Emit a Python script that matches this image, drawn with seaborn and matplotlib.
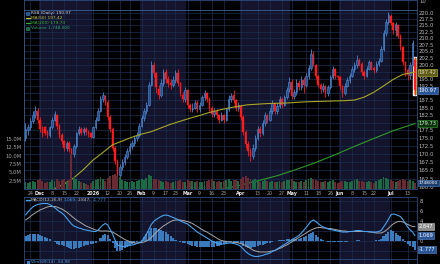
import numpy as np
import pandas as pd
import matplotlib
matplotlib.use("Agg")
import matplotlib.pyplot as plt
import matplotlib.transforms as mtransforms
from matplotlib.patches import Rectangle
from matplotlib.lines import Line2D
from matplotlib.ticker import NullLocator, NullFormatter
import seaborn as sns

# ---------------- data ----------------
ticker = "RSB"
first_day = "2025-11-20"
last_day = "2026-07-16"
market_holidays = ["2025-11-27", "2025-12-25", "2026-01-01", "2026-01-19",
                   "2026-02-16", "2026-04-03", "2026-05-25", "2026-06-19", "2026-07-03"]

opens = [175, 177.5, 178.5, 180.5, 182.5, 184, 181, 178, 178.5, 177,
         176, 178.5, 181, 182.5, 179, 176, 174, 172, 173.5, 171.5,
         170, 172.5, 176.5, 178, 177, 178, 177, 176.5, 175.5, 178.5,
         181, 184, 188, 189, 187, 182, 178, 172, 168, 163.5,
         166, 167.5, 169, 171, 172.5, 173.5, 175, 176, 179, 181.5,
         184, 186, 193, 200, 197, 191.5, 189.5, 193.5, 197.5, 195,
         193.5, 193, 194.5, 197, 193.5, 189.5, 188, 191, 186, 184.5,
         185, 187, 184.5, 186, 188.5, 190, 188, 185, 183, 184,
         182.5, 181, 182.5, 181, 184.5, 188, 189.5, 187.5, 185, 185.5,
         182, 177, 173, 171, 169.5, 172, 175, 178, 176.5, 180,
         182.5, 181, 184, 186.5, 184, 185.5, 188, 186, 188.5, 191.5,
         194, 189, 190.5, 193.5, 192, 194.5, 193, 196, 199, 203.5,
         200, 196, 193, 191.5, 192.5, 190, 192, 195.5, 198.5, 196,
         195.5, 192.5, 190, 192.5, 194.5, 196, 198.5, 200, 202, 200.5,
         197.5, 196, 198.5, 201, 199, 198, 200.5, 201.5, 206, 212,
         216.5, 218.5, 216, 213, 215, 211, 206.5, 201, 198, 196.5,
         200, 202]
closes = [178, 178.5, 180.5, 182.5, 184, 181, 178, 176.5, 176.8, 176,
          178.5, 181, 183, 179, 176, 174, 172, 173.5, 171.5, 170,
          172.5, 176.5, 178, 176.5, 178, 177, 176.5, 175.5, 178.5, 181,
          184, 188, 189.5, 187, 182, 178, 172, 168, 164, 166,
          167.5, 169, 171, 172.5, 173.5, 175, 176, 179, 181.5, 184,
          186, 193, 200, 197, 192, 189.5, 193.5, 197, 195, 193.5,
          193, 194.5, 197, 193.5, 190, 188, 191, 186, 184.5, 185,
          186.5, 184.5, 186, 188.5, 190, 188, 185, 183, 184, 182.5,
          181, 182.5, 181, 184.5, 188, 189, 187.5, 185, 186, 182,
          177, 173, 171, 169.5, 172, 175, 178, 176.5, 180, 182.5,
          181, 184, 186.5, 184, 185.5, 188, 186, 188.5, 191, 194,
          189, 190.5, 193.5, 192, 194.5, 193, 196, 199, 204, 200.5,
          196, 193, 191.5, 192.5, 190, 192, 195.5, 198.5, 196, 195.5,
          192.5, 190, 192.5, 194.5, 196, 198.5, 200, 202, 200.5, 197.5,
          196, 198.5, 201, 199, 198, 200.5, 201.5, 206, 212, 216.5,
          219, 216, 213, 215.5, 211, 206.5, 201, 198, 196.5, 200,
          208, 190.97]
highs = [180, 179.5, 181.5, 184, 185.5, 185, 182, 179, 179, 177.5,
         179, 182, 184, 183, 179.5, 176.5, 174.5, 174, 174, 172,
         173, 177, 179, 178.5, 178.5, 178.5, 177.5, 177, 179, 182,
         185, 189, 190.5, 189.5, 187.5, 182.5, 178.5, 172.5, 168.5, 167,
         168.5, 170, 172, 173.5, 174.5, 176, 177, 180, 182.5, 185,
         187, 194, 201.5, 201, 197.5, 193, 195, 198.5, 198.5, 196,
         195, 196, 198, 198.5, 194, 190.5, 192, 191.5, 186.5, 186.5,
         187.5, 187.5, 187, 189.5, 191, 190.5, 188.5, 185.5, 185, 184.5,
         183, 183.5, 183, 185, 189.5, 190, 191, 188, 187, 186,
         182.5, 177.5, 174, 172, 173, 176, 179, 179, 181, 183.5,
         183, 185, 187.5, 187, 186.5, 189, 188.5, 189.5, 192, 195.5,
         195, 191.5, 195, 194.5, 196, 195.5, 197, 200, 205.8, 205,
         200.5, 196.5, 193.5, 193.5, 193, 193, 196.5, 199.5, 199, 196.5,
         196, 193, 193.5, 195.5, 197, 199.5, 201, 203.5, 202.5, 201,
         198, 199.5, 202, 201.5, 199.5, 201.5, 202.5, 207, 213, 217.5,
         220.3, 219.5, 216.5, 216.5, 215.5, 211.5, 207, 201.5, 199, 201,
         209.5, 203]
lows = [174, 176, 177.5, 180, 181.5, 180, 177, 175.5, 176, 175,
        175.5, 178, 180.5, 178, 175, 173, 171, 171, 170.5, 169,
        169, 172, 176, 176, 176, 176, 175.5, 175, 175, 178,
        180.5, 183.5, 187, 186, 181, 177, 171, 167, 162.5, 161.3,
        165, 166.5, 168.5, 170, 171.5, 172.5, 174, 175.5, 178.5, 180.5,
        183, 185.5, 192.5, 195.5, 190, 188, 188.5, 192.5, 193.5, 192,
        191.5, 192, 193.5, 192.5, 189, 187, 187, 185, 183.5, 183.5,
        184.5, 183.5, 183.5, 185.5, 187.5, 187, 184, 182, 182, 181.5,
        180, 180.5, 180, 180.5, 184, 187, 186.5, 184, 184, 181,
        176, 172, 169.5, 168, 168.5, 171, 174.5, 175.5, 176, 179,
        180, 180.5, 183, 183, 183, 185, 185, 185.5, 188, 190.5,
        188, 188, 189.5, 191, 191, 190, 192, 195, 198, 199.5,
        195, 192, 190, 190.5, 188.5, 189, 191.5, 195, 195, 194.5,
        191.5, 188.5, 189.5, 192, 193.5, 195.5, 197.5, 199, 199.5, 196.5,
        195, 195.5, 198, 198, 197, 197.5, 199.5, 201, 205, 211,
        215.5, 215, 211.5, 211, 210, 205.5, 200, 196, 194.5, 195,
        199.5, 189.4]
volume_m = [2.2, 1.8, 2.0, 2.5, 2.1, 2.8, 3.0, 2.4, 1.9, 2.2,
            2.0, 2.6, 2.3, 2.9, 2.5, 2.7, 3.1, 2.2, 2.8, 10.5,
            3.5, 2.9, 2.4, 2.0, 1.7, 1.5, 1.3, 1.8, 2.4, 2.6,
            3.0, 3.6, 2.9, 2.5, 3.4, 3.8, 4.2, 4.5, 4.0, 3.6,
            2.8, 2.4, 2.2, 2.0, 2.3, 2.1, 2.5, 2.8, 3.0, 2.7,
            3.2, 4.1, 3.8, 3.0, 2.9, 2.6, 2.4, 2.2, 2.5, 2.1,
            1.9, 2.0, 2.3, 2.4, 2.6, 2.2, 2.0, 2.8, 2.5, 2.3,
            2.1, 2.4, 2.0, 2.2, 2.5, 2.3, 2.6, 2.9, 2.4, 2.2,
            2.5, 2.1, 2.3, 2.7, 2.9, 2.4, 2.6, 2.8, 2.3, 3.1,
            3.6, 3.9, 3.3, 3.0, 2.7, 2.9, 2.5, 2.2, 2.4, 2.6,
            2.3, 2.1, 2.5, 2.2, 2.0, 2.4, 2.1, 2.3, 2.6, 2.8,
            3.0, 2.5, 2.2, 2.1, 2.4, 2.0, 2.6, 2.9, 3.4, 3.1,
            2.8, 2.5, 2.2, 2.0, 2.3, 2.1, 2.4, 2.6, 2.2, 1.9,
            2.1, 2.5, 2.3, 2.0, 2.2, 2.4, 2.7, 2.9, 2.3, 2.5,
            2.2, 2.0, 2.4, 2.1, 1.9, 2.3, 2.6, 3.0, 3.5, 3.2,
            2.9, 2.6, 2.4, 2.2, 2.5, 2.8, 3.1, 2.7, 2.4, 2.6,
            2.3, 1.748]

ma50_days = [11, 16, 20, 24, 28, 31, 36, 40, 44, 48, 52, 56, 60, 64, 68, 72, 76, 80, 84,
             88, 92, 96, 100, 104, 108, 112, 116, 120, 124, 128, 132, 136, 140, 144, 148,
             152, 156, 161]
ma50_vals = [159.2, 161.0, 162.8, 165.3, 168.2, 169.9, 172.9, 174.1, 175.3, 176.3, 177.1,
             178.3, 179.5, 180.5, 181.5, 182.4, 183.4, 184.2, 184.9, 185.5, 186.0, 186.2,
             186.4, 186.5, 186.6, 186.8, 187.0, 187.1, 187.2, 187.3, 187.4, 187.6, 188.6,
             190.3, 192.5, 194.8, 196.6, 197.42]
ma200_days = [80, 88, 96, 104, 112, 120, 128, 136, 144, 152, 161]
ma200_vals = [159.3, 160.5, 161.9, 163.4, 165.3, 167.4, 169.8, 172.4, 174.9, 177.4, 179.73]

macd_line = [5.2, 5.8, 6.3, 6.8, 7.1, 7.3, 7.4, 7.5, 7.5, 7.5,
             7.3, 7.0, 6.7, 6.3, 5.9, 5.6, 5.2, 4.6, 4.0, 3.4,
             3.0, 2.8, 2.6, 2.5, 2.3, 2.2, 2.1, 2.0, 1.9, 1.9,
             2.2, 2.7, 3.2, 3.5, 3.2, 2.3, 1.4, 0.2, -0.8, -1.0,
             -1.1, -1.1, -1.0, -0.9, -0.8, -0.7, -0.5, -0.3, -0.1, 0.6,
             1.4, 2.3, 3.3, 3.9, 4.3, 4.6, 4.9, 5.1, 5.2, 5.1,
             4.9, 4.7, 4.5, 4.3, 4.0, 3.8, 3.6, 3.4, 3.0, 2.6,
             2.2, 1.8, 1.5, 1.2, 0.9, 0.6, 0.3, 0.0, -0.2, -0.4,
             -0.6, -0.6, -0.6, -0.5, -0.4, -0.4, -0.5, -0.6, -0.8, -1.1,
             -1.6, -2.1, -2.5, -2.8, -3.0, -3.1, -3.1, -3.0, -2.9, -2.7,
             -2.6, -2.4, -2.1, -1.9, -1.6, -1.3, -1.0, -0.7, -0.4, -0.1,
             0.2, 0.5, 0.8, 1.1, 1.6, 2.1, 2.7, 3.3, 3.9, 4.2,
             3.9, 3.5, 3.1, 2.8, 2.6, 2.4, 2.3, 2.2, 2.1, 2.0,
             1.9, 1.8, 1.8, 1.8, 1.9, 1.9, 2.0, 2.1, 2.1, 2.0,
             1.9, 1.9, 1.9, 1.8, 1.8, 1.8, 1.9, 2.1, 2.8, 3.5,
             4.3, 5.2, 5.4, 5.3, 5.1, 4.9, 4.3, 3.5, 2.8, 2.2,
             1.8, 1.069]
signal_line = [4.2, 4.5, 4.9, 5.3, 5.6, 5.9, 6.2, 6.4, 6.6, 6.8,
               6.9, 6.9, 6.9, 6.8, 6.6, 6.4, 6.1, 5.8, 5.4, 5.0,
               4.6, 4.2, 3.9, 3.6, 3.3, 3.0, 2.8, 2.6, 2.4, 2.2,
               2.1, 2.0, 2.0, 2.0, 2.0, 1.9, 1.8, 1.5, 1.2, 0.9,
               0.6, 0.3, 0.1, -0.1, -0.3, -0.4, -0.4, -0.4, -0.3, -0.2,
               0.0, 0.3, 0.7, 1.2, 1.7, 2.2, 2.6, 3.0, 3.3, 3.6,
               3.9, 4.1, 4.2, 4.2, 4.2, 4.1, 4.0, 3.9, 3.7, 3.5,
               3.2, 2.9, 2.6, 2.3, 2.0, 1.8, 1.5, 1.2, 0.9, 0.6,
               0.3, 0.1, 0.0, -0.1, -0.2, -0.2, -0.3, -0.3, -0.4, -0.5,
               -0.7, -0.9, -1.2, -1.5, -1.8, -2.0, -2.1, -2.2, -2.2, -2.2,
               -2.2, -2.1, -2.0, -1.9, -1.7, -1.5, -1.3, -1.0, -0.8, -0.5,
               -0.2, 0.1, 0.4, 0.7, 1.0, 1.3, 1.6, 1.9, 2.2, 2.4,
               2.6, 2.7, 2.7, 2.6, 2.6, 2.5, 2.5, 2.4, 2.3, 2.2,
               2.1, 2.0, 2.0, 1.9, 1.9, 1.9, 1.9, 1.9, 1.9, 1.9,
               1.9, 1.9, 1.8, 1.8, 1.7, 1.6, 1.6, 1.6, 1.8, 2.1,
               2.5, 3.0, 3.4, 3.7, 3.9, 3.9, 3.8, 3.6, 3.3, 3.1,
               2.9, 2.847]

tick_dates = ["2025-11-24", "2025-12-01", "2025-12-08", "2025-12-15", "2025-12-22",
              "2026-01-02", "2026-01-12", "2026-01-20", "2026-01-26", "2026-02-02",
              "2026-02-09", "2026-02-17", "2026-02-23", "2026-03-02", "2026-03-09",
              "2026-03-16", "2026-03-23", "2026-04-01", "2026-04-13", "2026-04-20",
              "2026-04-27", "2026-05-01", "2026-05-11", "2026-05-18", "2026-05-26",
              "2026-06-01", "2026-06-08", "2026-06-15", "2026-06-22", "2026-07-01",
              "2026-07-13"]
tick_labels = ["24", "Dec", "8", "15", "22", "2026", "12", "20", "26", "Feb",
               "9", "17", "23", "Mar", "9", "16", "23", "Apr", "13", "20",
               "27", "May", "11", "18", "26", "Jun", "8", "15", "22", "Jul", "13"]

price_ticks = [160.0, 162.5, 165.0, 167.5, 170.0, 172.5, 175.0, 177.5, 180.0, 182.5,
               185.0, 187.5, 190.0, 192.5, 195.0, 197.5, 200.0, 202.5, 205.0, 207.5,
               210.0, 212.5, 215.0, 217.5, 220.0]
volume_ticks = [2.5, 5.0, 7.5, 10.0, 12.5, 15.0]
volume_tick_labels = ["2.5M", "5.0M", "7.5M", "10.0M", "12.5M", "15.0M"]
macd_ticks = [8, 6, 4, 0]
macd_grid = [8, 6, 4, 2, 0, -2]

last_close = 190.97
last_ma50 = 197.42
last_ma200 = 179.73
last_volume = 1748000
macd_last = [1.069, 2.847, -1.777]
wmr_last = -94.98
upper_panel_tick = "10"

# ---------------- style ----------------
sns.set_style("dark", {"axes.facecolor": "black", "figure.facecolor": "black"})
plt.rcParams["font.family"] = ["DejaVu Sans"]

BG = "#000000"
SHADE = "#14142c"
GRID = "#1a2f52"
BORDER = "#2c4c7e"
UP_FC, UP_EC = "#23508e", "#4c86cc"
DN_C = "#ff1c1c"
VOL_UP, VOL_DN = "#1c6a44", "#6a2a32"
TXT = "#bcbcbc"

W, H = 440, 264
fig = plt.figure(figsize=(W / 100, H / 100), dpi=100, facecolor=BG)


def box(y_top, y_bot, x0=24, x1=417):
    return [x0 / W, 1 - y_bot / H, (x1 - x0) / W, (y_bot - y_top) / H]


ax_top = fig.add_axes(box(0, 10))
ax = fig.add_axes(box(10, 189))
ax_m = fig.add_axes(box(197, 259))
ax_b = fig.add_axes(box(259, 264))
panels = [ax_top, ax, ax_m, ax_b]

days = pd.bdate_range(first_day, last_day)
days = days[~days.isin(pd.to_datetime(market_holidays))]
xs = np.arange(len(days))
XLIM = (-0.62, 161.84)

O = np.array(opens, float)
C = np.array(closes, float)
Hh = np.array(highs, float)
Ll = np.array(lows, float)
V = np.array(volume_m, float)
up = C >= O

tick_idx = [days.get_loc(pd.Timestamp(d)) for d in tick_dates]
months = days.to_period("M")

for a in panels:
    a.set_facecolor(BG)
    a.set_xlim(XLIM)
    for m in months.unique():
        idx = np.where(months == m)[0]
        if m.month % 2 == 0:
            a.axvspan(idx[0] - 0.5, idx[-1] + 0.5, color=SHADE, lw=0, zorder=0)
    for t in tick_idx:
        a.axvline(t, color=GRID, lw=0.5, zorder=0.5)
    for s in a.spines.values():
        s.set_color(BORDER)
        s.set_linewidth(0.6)
    a.tick_params(length=0)

for a in (ax_top, ax_b):
    a.set_ylim(0, 1)
    a.set_xticks([])
    a.set_yticks([])

# ---- price panel ----
ax.set_yscale("log")
ax.set_ylim(159.5, 221.1)
for p in price_ticks:
    ax.axhline(p, color=GRID, lw=0.5, zorder=0.5)

# highlight behind the last candle
ax.bar(xs[-1], Hh[-1] - Ll[-1], bottom=Ll[-1], width=1.6, color="#c8920e", zorder=2)

wick_cols = np.where(up, UP_EC, DN_C)
ax.vlines(xs, Ll, Hh, colors=wick_cols, lw=0.6, zorder=3)
body_lo = np.minimum(O, C)
body_h = np.maximum(np.abs(C - O), 0.25)
ax.bar(xs[up], body_h[up], bottom=body_lo[up], width=0.62, color=UP_FC,
       edgecolor=UP_EC, lw=0.45, zorder=4)
ax.bar(xs[~up], body_h[~up], bottom=body_lo[~up], width=0.62, color=DN_C,
       edgecolor=DN_C, lw=0.3, zorder=4)

sns.lineplot(x=ma50_days, y=ma50_vals, ax=ax, color="#a9a52a", lw=0.8,
             estimator=None, sort=False, zorder=5)
sns.lineplot(x=ma200_days, y=ma200_vals, ax=ax, color="#2f9a2a", lw=0.8,
             estimator=None, sort=False, zorder=5)

# ---- volume on twin axis ----
ax_v = ax.twinx()
ax_v.set_ylim(0, 53.7)
ax_v.set_xlim(XLIM)
ax_v.bar(xs, V, width=0.8, color=np.where(up, VOL_UP, VOL_DN), lw=0, zorder=2)
ax_v.yaxis.tick_left()
ax_v.yaxis.set_label_position("left")
ax_v.set_yticks(volume_ticks)
ax_v.set_yticklabels(volume_tick_labels)
ax_v.tick_params(axis="y", length=0, pad=1.5, labelsize=3.8, labelcolor="#a4a4a4")
for s in ax_v.spines.values():
    s.set_visible(False)

# price axis labels on the right; labels hidden where a value tag covers them
tag_values = [last_ma50, last_close, last_ma200]
ax.yaxis.tick_right()
ax.yaxis.set_minor_locator(NullLocator())
ax.yaxis.set_minor_formatter(NullFormatter())
ax.set_yticks(price_ticks)
ax.set_yticklabels(["" if min(abs(p - t) for t in tag_values) < 1.3 else f"{p:.1f}"
                    for p in price_ticks])
ax.tick_params(axis="y", which="both", left=False, labelleft=False, right=False,
               labelright=True, length=0, pad=1.2, labelsize=3.9, labelcolor=TXT)
ax.set_xticks(tick_idx)
ax.set_xticklabels(tick_labels)
ax.tick_params(axis="x", length=0, pad=1.3, labelsize=3.4, labelcolor="#a4a4a4")
for lab in ax.get_xticklabels():
    if len(lab.get_text()) > 2:
        lab.set_fontweight("bold")
        lab.set_color("#e6e6e6")
ax.set_xlabel("")
ax.set_ylabel("")
ax.set_xlim(XLIM)
ax.spines["top"].set_color("#3a5f98")
ax.spines["left"].set_color("#3a5f98")


def tag(a, yval, text, fc, ec, tc, fs=3.7):
    tr = mtransforms.blended_transform_factory(a.transAxes, a.transData)
    a.text(1.004, yval, text, transform=tr, ha="left", va="center", fontsize=fs,
           color=tc, clip_on=False, zorder=30,
           bbox=dict(boxstyle="square,pad=0.18", fc=fc, ec=ec, lw=0.4))


tag(ax, last_ma50, f"{last_ma50:.2f}", "#5c5a18", "#c8c440", "#dcdcb4")
tag(ax, last_close, f"{last_close:.2f}", "#2a5596", "#5a8ed0", "#ffffff")
tag(ax, last_ma200, f"{last_ma200:.2f}", "#0e320e", "#36a836", "#d8f0d8")
tag(ax_v, last_volume / 1e6, f"{last_volume}", "#1e3e70", "#4f86c6", "#ffffff", fs=3.2)

# ---- MACD panel ----
macd = np.array(macd_line)
sig = np.array(signal_line)
hist = macd - sig
ax_m.set_ylim(-3.6, 8.8)
for g in macd_grid:
    ax_m.axhline(g, color=GRID, lw=0.5, zorder=0.5)
ax_m.bar(xs, hist, width=0.85, color="#3a7bbd", lw=0, zorder=2)
sns.lineplot(x=xs, y=sig, ax=ax_m, color="#a8a8a8", lw=0.7, estimator=None, sort=False, zorder=3)
sns.lineplot(x=xs, y=macd, ax=ax_m, color="#4aa2ee", lw=0.8, estimator=None, sort=False, zorder=4)
ax_m.set_xlim(XLIM)
ax_m.set_xticks([])
ax_m.yaxis.tick_right()
ax_m.set_yticks(macd_ticks)
ax_m.set_yticklabels([str(t) for t in macd_ticks])
ax_m.tick_params(axis="y", length=0, pad=1.8, labelsize=3.8, labelcolor=TXT)
ax_m.set_xlabel("")
ax_m.set_ylabel("")
tag(ax_m, macd_last[1], f"{macd_last[1]:.3f}", "#8c8c8c", "#c8c8c8", "#ffffff")
tag(ax_m, macd_last[0], f"{macd_last[0]:.3f}", "#2a5596", "#5a8ed0", "#ffffff")
tag(ax_m, macd_last[2], f"{macd_last[2]:.3f}", "#2a5596", "#5a8ed0", "#ffffff")


# ---- legend texts ----
def fx(px):
    return px / W


def fy(py):
    return 1 - py / H


LEG_FS = 3.1
renderer = fig.canvas.get_renderer()


def seq_text(x0, y, parts):
    x = x0
    for s, col in parts:
        t = fig.text(fx(x), fy(y), s, fontsize=LEG_FS, color=col, ha="left", va="center")
        bb = t.get_window_extent(renderer)
        x = bb.x1 + 1.0


fig.add_artist(Rectangle((fx(26), fy(15)), 3 / W, 3 / H, transform=fig.transFigure,
                         fc=UP_FC, ec=UP_EC, lw=0.4))
fig.text(fx(31), fy(13.3), f"{ticker} (Daily) {last_close:.2f}", fontsize=LEG_FS,
         color="#d0d0d0", ha="left", va="center")
fig.add_artist(Line2D([fx(26), fx(29.5)], [fy(18.3), fy(18.3)], transform=fig.transFigure,
                      color="#c8c440", lw=0.9))
fig.text(fx(31), fy(18.3), f"MA(50) {last_ma50:.2f}", fontsize=LEG_FS, color="#c8c44a",
         ha="left", va="center")
fig.add_artist(Line2D([fx(26), fx(29.5)], [fy(23.3), fy(23.3)], transform=fig.transFigure,
                      color="#36b036", lw=0.9))
fig.text(fx(31), fy(23.3), f"MA(200) {last_ma200:.2f}", fontsize=LEG_FS, color="#3cb83c",
         ha="left", va="center")
fig.add_artist(Rectangle((fx(26), fy(30)), 3 / W, 3 / H, transform=fig.transFigure,
                         fc=VOL_UP, ec="#2a9a60", lw=0.4))
fig.text(fx(31), fy(28.3), f"Volume {last_volume:,}", fontsize=LEG_FS, color="#38a874",
         ha="left", va="center")

fig.add_artist(Line2D([fx(26), fx(29.5)], [fy(200), fy(200)], transform=fig.transFigure,
                      color="#4aa2ee", lw=0.9))
seq_text(30.5, 200, [("MACD(12,26,9)", "#c8c8c8"), (f"{macd_last[0]:.3f},", "#4aa2ee"),
                     (f"{macd_last[1]:.3f},", "#bdbdbd"), (f"{macd_last[2]:.3f}", "#4aa2ee")])

fig.add_artist(Rectangle((fx(26.5), fy(263.5)), 3 / W, 2.5 / H, transform=fig.transFigure,
                         fc="#3a7bbd", lw=0))
fig.text(fx(31), fy(262), f"Wm%R(14) {wmr_last:.2f}", fontsize=LEG_FS, color="#5b9bd8",
         ha="left", va="center")

fig.text(fx(419), fy(1.5), upper_panel_tick, fontsize=3.8, color=TXT, ha="left", va="center")

fig.savefig("out.png", dpi=100, facecolor=BG)
